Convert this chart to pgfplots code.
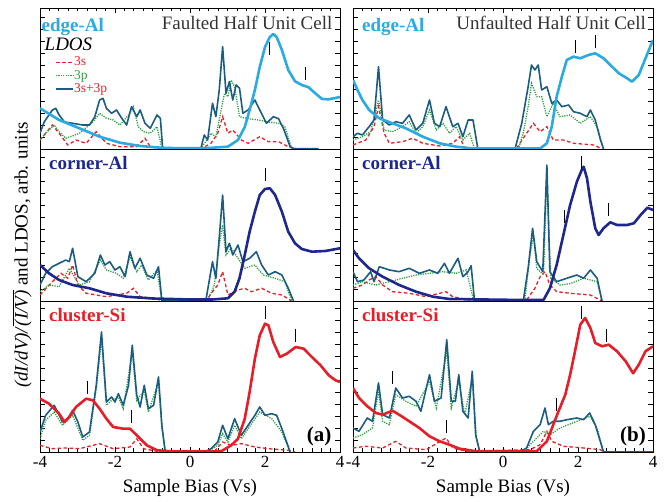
\documentclass[border=0pt]{standalone}
\usepackage{fontspec}
\setmainfont{Liberation Serif}
\usepackage{pgfplots}
\pgfplotsset{compat=1.18}

\definecolor{edgeblue}{HTML}{29ABE2}
\definecolor{navy}{HTML}{1E288C}
\definecolor{clred}{HTML}{E61E28}
\definecolor{sumblue}{HTML}{1B5C82}
\definecolor{pgreen}{HTML}{2AA040}
\definecolor{sred}{HTML}{E8202A}
\definecolor{ttl}{HTML}{333333}

\newcommand{\bigf}{\fontsize{19}{22}\selectfont}

\pgfplotsset{
  panel/.style={scale only axis, width=300pt, xmin=-4, xmax=4, ymin=0,
    anchor=south west,
    axis line style={line width=0.9pt},
    tick style={black, line width=0.7pt},
    tick align=inside,
    ytick distance=12, yticklabels={}, ytick pos=both,
    major tick length=5pt, minor tick length=3.5pt,
    ticklabel style={font=\fontsize{17}{17}\selectfont},
  },
  toprow/.style={xtick={-4,-2,...,4}, minor x tick num=7, xtick pos=right, xticklabels={}},
  midrow/.style={xtick=\empty},
  botrow/.style={xtick={-4,-2,0,2,4}, minor x tick num=7, xtick pos=left,
    xticklabels={-4,-2,0,2,4},
    xticklabel style={yshift=-1pt},
    xlabel={Sample Bias (Vs)},
    xlabel style={font=\bigf, at={(axis description cs:0.5,0)}, anchor=north, yshift=-24pt}},
  s3/.style={sred, line width=1.3pt, dash pattern=on 3.5pt off 2.5pt},
  p3/.style={pgreen, line width=1.3pt, dash pattern=on 1.2pt off 1.2pt},
  sum/.style={sumblue, line width=1.6pt, line join=round},
  expc/.style={line width=2.6pt, line join=round},
  pk/.style={only marks, mark=|, mark size=6.5pt, mark options={line width=1pt, black}, forget plot},
}

\begin{document}
\begin{tikzpicture}
\useasboundingbox (0,0) rectangle (666pt,502pt);

\node[rotate=90, font=\bigf] at (22pt,247pt) {\textit{(dI/dV)/}$\overline{\mbox{\textit{(I/V)}}}$ and LDOS, arb. units};

% ---------------- A1 ----------------
\begin{axis}[panel, toprow, at={(40pt,353pt)}, height=141pt, ymax=141,
  legend style={at={(axis description cs:0.05,0.655)}, anchor=north west, draw=none, fill=none,
    font=\fontsize{13.5}{13.5}\selectfont, row sep=2.5pt, inner sep=0pt, nodes={inner sep=0.2pt}},
  legend cell align=left,
  ]
\addplot[s3] coordinates {(-4.0,9)(-3.67,24)(-3.49,15.7)(-3.26,4)(-3.04,9)(-2.77,5.7)(-2.50,17.3)(-2.23,5.7)(-1.87,2.3)(-1.42,2.3)(-1.20,10.7)(-1.06,2.3)(-0.79,0)(0.29,0)(0.56,5.7)(0.74,15.7)(0.87,32.3)(1.01,15.7)(1.14,19)(1.37,9)(1.55,5.7)(1.86,12.3)(2.09,7.3)(2.36,7.3)(2.62,2.3)(2.80,0)};
\addlegendentry{\textcolor{sred}{3s}}
\addplot[p3] coordinates {(-4.0,9)(-3.85,15.7)(-3.62,24)(-3.49,17.3)(-3.31,10.7)(-2.95,15.7)(-2.59,27)(-2.41,35.7)(-2.23,30.7)(-2.05,29)(-1.87,24)(-1.64,34)(-1.51,42.3)(-1.38,22.3)(-1.24,17.3)(-1.06,15.7)(-0.88,22.3)(-0.75,0.7)(0.29,0.7)(0.42,7.3)(0.56,15.7)(0.69,12.3)(0.83,39)(0.92,55.7)(1.01,52.3)(1.10,69)(1.19,62.3)(1.32,32.3)(1.55,30.3)(1.82,29)(2.09,27)(2.36,25.7)(2.53,22.3)(2.71,0.7)(3.43,0.7)};
\addlegendentry{\textcolor{pgreen}{3p}}
\addplot[sum] coordinates {(-4.0,15.7)(-3.89,27)(-3.67,39)(-3.58,40.7)(-3.49,34)(-3.35,27)(-3.13,25.7)(-2.86,24)(-2.68,24)(-2.54,32)(-2.41,49)(-2.32,50.7)(-2.23,40.7)(-2.09,35.7)(-1.96,39)(-1.82,30.7)(-1.69,24)(-1.56,42.3)(-1.42,32.3)(-1.33,39)(-1.20,25.7)(-1.06,20.7)(-0.88,34)(-0.79,30.7)(-0.73,0.7)(0.29,0.7)(0.38,14)(0.47,9)(0.60,45.7)(0.69,32.3)(0.78,59)(0.87,102.3)(0.96,55.7)(1.05,67.3)(1.14,49)(1.23,64)(1.32,60.7)(1.41,35.7)(1.55,39)(1.73,49)(1.86,39)(2.04,25.7)(2.22,32.3)(2.36,30.3)(2.49,20.7)(2.67,2.3)(2.80,0)(3.43,0)};
\addlegendentry{\textcolor{sred}{3s+3p}}
\addplot[expc, edgeblue, forget plot] coordinates {(-4.0,40.7)(-3.49,29)(-2.95,20.7)(-2.41,12.3)(-1.87,6.3)(-1.33,3)(-0.79,1.3)(-0.25,0.7)(0.38,0.7)(1.01,2.3)(1.28,9)(1.46,22)(1.59,39)(1.73,59)(1.86,82)(2.0,102)(2.13,112)(2.22,115)(2.31,112)(2.45,99)(2.62,79)(2.80,67.7)(2.98,64)(3.16,61.7)(3.34,55.7)(3.52,50)(3.70,49.7)(3.88,51)(4.0,52)};
\addplot[pk] coordinates {(2.13,100)(3.07,75.7)};
\node[anchor=base west, font=\bigf\bfseries, text=edgeblue, inner sep=0pt] at (rel axis cs:0.005,0.832) {edge-Al};
\node[anchor=base east, font=\bigf, text=ttl, inner sep=0pt] at (rel axis cs:0.975,0.849) {Faulted Half Unit Cell};
\node[anchor=base west, font=\bigf\itshape, inner sep=0pt] at (rel axis cs:0.015,0.695) {LDOS};
\end{axis}

% ---------------- B1 ----------------
\begin{axis}[panel, toprow, at={(353pt,353pt)}, height=141pt, ymax=141]
\addplot[s3] coordinates {(-4.0,4)(-3.66,9)(-3.44,22.3)(-3.32,42.3)(-3.17,15.7)(-3.03,5.7)(-2.68,7.3)(-2.41,10.7)(-2.14,5.7)(-1.69,3)(-1.34,5.7)(-1.16,12.3)(-1.02,0.7)(0.36,0.7)(0.63,15.7)(0.81,25.7)(0.99,17.3)(1.17,22.3)(1.34,9)(1.61,9)(1.88,5.7)(2.42,4)(2.64,0)};
\addplot[p3] coordinates {(-4.0,9)(-3.75,12.3)(-3.53,17.3)(-3.32,49)(-3.17,19)(-2.95,17.3)(-2.68,22.3)(-2.50,27.3)(-2.32,15.7)(-2.14,22.3)(-1.96,39)(-1.78,19)(-1.60,25.7)(-1.43,15.7)(-1.25,22.3)(-1.07,9)(-0.89,15.7)(-0.76,0)(0.41,0)(0.54,15.7)(0.67,42.3)(0.76,65.7)(0.90,52.3)(1.03,52.3)(1.17,32.3)(1.34,45.7)(1.52,32.3)(1.79,34)(2.06,25.7)(2.33,32.3)(2.51,22.3)(2.68,0)};
\addplot[sum] coordinates {(-4.0,12.3)(-3.88,15.7)(-3.75,14)(-3.57,22.3)(-3.44,29)(-3.32,82.3)(-3.21,29)(-3.03,24)(-2.86,27.3)(-2.68,25.7)(-2.50,34)(-2.32,19)(-2.14,25.7)(-1.96,49)(-1.83,25.7)(-1.69,22.3)(-1.52,42.3)(-1.34,22.3)(-1.20,25.7)(-1.07,12.3)(-0.93,29)(-0.80,29)(-0.67,0)(0.32,0)(0.50,25.7)(0.67,62.3)(0.76,84)(0.85,79)(0.94,84)(1.03,59)(1.17,62.3)(1.30,45.7)(1.43,49)(1.57,42.3)(1.75,44)(1.88,37.3)(2.06,35.7)(2.24,32.3)(2.33,39)(2.46,29)(2.60,9)(2.68,0)};
\addplot[expc, edgeblue] coordinates {(-4.0,69)(-3.88,59)(-3.75,49)(-3.57,39)(-3.30,30.7)(-2.95,25.7)(-2.59,20.7)(-2.14,12.3)(-1.69,5.7)(-1.25,2.3)(-0.80,0.5)(0.99,0.5)(1.17,5.7)(1.30,22.3)(1.43,52.3)(1.57,72.3)(1.70,89)(1.88,92.3)(2.06,90.7)(2.28,94)(2.46,95.7)(2.68,90.7)(2.86,84)(3.09,75.7)(3.31,70.7)(3.44,67.3)(3.62,74)(3.80,90.7)(4.0,109)};
\addplot[pk] coordinates {(1.92,102)(2.46,107)};
\node[anchor=base west, font=\bigf\bfseries, text=edgeblue, inner sep=0pt] at (rel axis cs:0.03,0.832) {edge-Al};
\node[anchor=base east, font=\bigf, text=ttl, inner sep=0pt] at (rel axis cs:0.977,0.849) {Unfaulted Half Unit Cell};
\end{axis}

% ---------------- A2 ----------------
\begin{axis}[panel, midrow, at={(40pt,201pt)}, height=152pt, ymax=152]
\addplot[s3] coordinates {(-4.0,6)(-3.67,19.3)(-3.44,27.7)(-3.26,22.7)(-3.13,36)(-2.99,16)(-2.77,7.7)(-2.23,4.3)(-1.69,7.7)(-1.51,12.7)(-1.33,4.3)(-0.97,2.7)(-0.70,0)(0.42,0)(0.60,9.3)(0.74,16)(0.87,29.3)(1.01,6)(1.28,11)(1.46,12.7)(1.64,9.3)(1.91,12.7)(2.18,7.7)(2.45,6)(2.71,0)};
\addplot[p3] coordinates {(-4.0,9.3)(-3.76,16)(-3.49,14.3)(-3.22,32.7)(-2.95,16)(-2.68,19.3)(-2.39,41)(-2.23,31)(-1.96,27.7)(-1.78,22.7)(-1.60,44.3)(-1.42,29.3)(-1.29,36)(-1.11,21)(-0.88,31)(-0.75,0)(0.47,0)(0.65,16)(0.78,56)(0.87,76)(0.96,46)(1.10,52.7)(1.28,42.7)(1.46,32.7)(1.73,36)(1.95,26)(2.27,22.7)(2.53,19.3)(2.71,0)};
\addplot[sum] coordinates {(-4.0,16)(-3.85,27.7)(-3.67,34.3)(-3.49,37.7)(-3.31,41)(-3.22,39.3)(-3.13,52.7)(-2.99,24.3)(-2.77,19.3)(-2.54,27.7)(-2.39,46)(-2.27,36)(-2.14,39.3)(-2.0,31)(-1.87,34.3)(-1.73,24.3)(-1.60,49.3)(-1.47,32.7)(-1.33,42.7)(-1.15,26)(-0.97,22.7)(-0.84,34.3)(-0.75,0)(0.42,0)(0.60,39.3)(0.69,22.7)(0.80,72.7)(0.87,106)(0.96,49.3)(1.05,57.7)(1.14,46)(1.28,56)(1.41,39.3)(1.59,42.7)(1.77,49.3)(1.91,36)(2.09,26)(2.27,29.3)(2.45,26)(2.62,12.7)(2.76,0)};
\addplot[expc, navy] coordinates {(-4.0,36)(-3.76,27.7)(-3.49,21)(-3.13,16)(-2.68,12.7)(-2.23,7.7)(-1.69,4.3)(-1.0,2.5)(0,1.5)(0.6,1.5)(1.01,2.7)(1.19,9.3)(1.32,22.7)(1.46,46)(1.59,69.3)(1.73,89.3)(1.86,106)(2.0,112)(2.13,112.7)(2.27,106)(2.45,89.3)(2.62,69.3)(2.80,57.7)(2.98,52)(3.25,49.3)(3.61,50)(4.0,52.7)};
\addplot[pk] coordinates {(2.0,126)};
\node[anchor=base west, font=\bigf\bfseries, text=navy, inner sep=0pt] at (rel axis cs:0.03,0.868) {corner-Al};
\end{axis}

% ---------------- B2 ----------------
\begin{axis}[panel, midrow, at={(353pt,201pt)}, height=152pt, ymax=152]
\addplot[s3] coordinates {(-4.0,12.7)(-3.75,16)(-3.57,21)(-3.39,24.3)(-3.21,16)(-2.95,9.3)(-2.50,7.7)(-2.05,4.3)(-1.52,9.3)(-1.34,4.3)(-0.89,1)(0.63,1)(0.85,12.7)(0.99,24.3)(1.12,29.3)(1.25,16)(1.43,9.3)(1.79,7.7)(2.33,6)(2.64,0)};
\addplot[p3] coordinates {(-4.0,16)(-3.75,19.3)(-3.39,16)(-3.03,19.3)(-2.68,22.7)(-2.32,26)(-1.96,27.7)(-1.60,29.3)(-1.25,27.7)(-0.98,31)(-0.78,0)(0.58,0)(0.72,46)(0.81,66)(0.90,32.7)(1.08,26)(1.17,126)(1.27,22.7)(1.52,16)(1.79,17.3)(2.15,22.7)(2.51,19.3)(2.64,0)};
\addplot[sum] coordinates {(-4.0,29.3)(-3.88,19.3)(-3.71,21)(-3.53,29.3)(-3.44,19.3)(-3.30,34.3)(-3.03,31)(-2.77,29.3)(-2.50,32.7)(-2.23,27.7)(-1.96,31)(-1.74,27.7)(-1.56,37.7)(-1.43,27.7)(-1.20,42.7)(-1.07,24.3)(-0.93,29.3)(-0.85,35.3)(-0.76,0)(0.54,0)(0.67,32.7)(0.79,72.7)(0.90,39.3)(1.06,29.3)(1.17,136)(1.25,29.3)(1.43,19.3)(1.70,22.7)(1.97,26)(2.15,22.7)(2.33,31)(2.51,22.7)(2.64,0)};
\addplot[expc, navy] coordinates {(-4.0,51)(-3.84,42.7)(-3.57,32.7)(-3.21,24.3)(-2.77,16)(-2.32,9.3)(-1.87,4.3)(-1.43,2)(-0.5,1.5)(0.5,1)(1.08,1)(1.25,12.7)(1.43,36)(1.61,66)(1.79,96)(1.97,119.3)(2.10,131)(2.15,134.3)(2.24,122.7)(2.33,99.3)(2.46,72.7)(2.55,66)(2.68,72.7)(2.86,78.7)(3.04,76)(3.31,76)(3.49,77.7)(3.67,86)(3.85,93.3)(4.0,91)};
\addplot[pk] coordinates {(1.64,84.3)(2.10,138.7)(2.82,91)};
\node[anchor=base west, font=\bigf\bfseries, text=navy, inner sep=0pt] at (rel axis cs:0.03,0.868) {corner-Al};
\end{axis}

% ---------------- A3 ----------------
\begin{axis}[panel, botrow, at={(40pt,50pt)}, height=151pt, ymax=151]
\addplot[s3] coordinates {(-4.0,6.7)(-3.67,3.3)(-3.31,4)(-2.95,3.3)(-2.41,8.3)(-2.05,3.3)(-1.60,5)(-1.42,13.3)(-1.24,3.3)(-0.88,0.7)(0.65,0.7)(0.87,10)(1.10,6.7)(1.37,8.3)(1.73,5)(2.09,3.3)(2.62,1.7)(2.80,0)};
\addplot[p3] coordinates {(-4.0,13.3)(-3.85,31.7)(-3.62,40)(-3.40,26.7)(-3.13,36.7)(-2.86,11.7)(-2.68,16.7)(-2.50,63.3)(-2.36,113.3)(-2.23,46.7)(-2.09,51.7)(-1.91,55)(-1.78,43.3)(-1.54,100)(-1.42,51.7)(-1.22,61.7)(-1.11,40)(-0.84,70)(-0.75,23.3)(-0.66,0)(0.47,0)(0.74,6.7)(0.87,18.3)(1.01,10)(1.19,26.7)(1.37,13.3)(1.55,23.3)(1.86,40)(2.18,33.3)(2.45,20)(2.67,0)};
\addplot[sum] coordinates {(-4.0,20)(-3.85,36.7)(-3.62,46.7)(-3.40,30)(-3.26,33.3)(-3.13,41.7)(-2.99,30)(-2.86,15)(-2.68,20)(-2.50,66.7)(-2.36,120)(-2.23,50)(-2.09,55)(-2.0,50)(-1.91,58.3)(-1.78,46.7)(-1.64,66.7)(-1.54,106.7)(-1.42,56.7)(-1.33,45)(-1.22,66.7)(-1.11,43.3)(-0.97,46.7)(-0.84,75)(-0.75,26.7)(-0.66,0)(0.38,0)(0.56,3.3)(0.74,10)(0.87,26.7)(1.01,13.3)(1.19,33.3)(1.37,16.7)(1.55,26.7)(1.73,36.7)(1.86,45)(2.0,36.7)(2.18,38.3)(2.31,36.7)(2.45,23.3)(2.67,0)};
\addplot[expc, clred] coordinates {(-4.0,53.3)(-3.76,48.3)(-3.49,38.3)(-3.35,30)(-3.22,35)(-3.04,45)(-2.77,53.3)(-2.59,51.7)(-2.41,43.3)(-2.23,33.3)(-2.05,25)(-1.78,23.3)(-1.60,23.3)(-1.42,16.7)(-1.15,6.7)(-0.88,1.7)(-0.43,0.5)(0.83,0.7)(1.10,6.7)(1.28,13.3)(1.46,33.3)(1.59,60)(1.73,93.3)(1.86,116.7)(2.0,128.3)(2.09,126.7)(2.22,110)(2.40,95)(2.58,98.3)(2.82,105)(3.03,103.3)(3.25,95)(3.48,86.7)(3.70,76.7)(3.88,71.7)(4.0,70)};
\addplot[pk] coordinates {(-2.74,64.3)(-1.56,35)(2.01,139.3)(2.82,116)};
\node[anchor=base west, font=\bigf\bfseries, text=clred, inner sep=0pt] at (rel axis cs:0.03,0.863) {cluster-Si};
\node[anchor=base east, font=\fontsize{21}{24}\selectfont\bfseries, inner sep=0pt] at (rel axis cs:0.972,0.068) {(a)};
\end{axis}

% ---------------- B3 ----------------
\begin{axis}[panel, botrow, at={(353pt,50pt)}, height=151pt, ymax=151]
\addplot[s3] coordinates {(-4.0,4)(-3.66,5.7)(-3.21,4)(-2.86,10.7)(-2.59,4)(-2.05,2.3)(-1.52,14)(-1.34,4)(-0.98,0.7)(0.72,2.3)(0.99,7.3)(1.17,20.7)(1.30,10.7)(1.61,5.7)(2.15,4)(2.60,2.3)(2.68,0)};
\addplot[p3] coordinates {(-4.0,14)(-3.75,17.3)(-3.48,24)(-3.32,60.7)(-3.21,30.7)(-3.03,27.3)(-2.86,57.3)(-2.59,50.7)(-2.32,45.7)(-1.96,70.7)(-1.78,44)(-1.50,100.7)(-1.38,44)(-1.18,70.7)(-1.02,37.3)(-0.82,74)(-0.71,14)(-0.62,0)(0.54,0)(0.81,10.7)(1.08,20.7)(1.25,17.3)(1.52,24)(1.97,30.7)(2.31,35.7)(2.51,24)(2.68,0)};
\addplot[sum] coordinates {(-4.0,24)(-3.84,20.7)(-3.62,34)(-3.48,30.7)(-3.32,69)(-3.21,37.3)(-3.03,34)(-2.86,64)(-2.68,54)(-2.50,55.7)(-2.32,50.7)(-2.19,40.7)(-1.96,77.3)(-1.83,50.7)(-1.65,54)(-1.50,112.3)(-1.38,50.7)(-1.27,50.7)(-1.18,77.3)(-1.07,40.7)(-0.93,34)(-0.82,80.7)(-0.73,17.3)(-0.62,0)(0.45,0)(0.63,4)(0.81,20.7)(0.99,27.3)(1.12,44)(1.21,27.3)(1.34,30.7)(1.52,30.7)(1.70,32.3)(1.97,34)(2.15,32.3)(2.31,39)(2.46,27.3)(2.68,0)(4.0,0)};
\addplot[expc, clred] coordinates {(-4.0,64)(-3.84,54)(-3.62,45.7)(-3.39,39)(-3.21,37.3)(-2.95,41.3)(-2.77,37.3)(-2.50,30.7)(-2.23,24)(-1.96,15.7)(-1.69,10.7)(-1.43,7.3)(-1.16,3.3)(-0.71,0.7)(0.90,0.7)(1.17,10.7)(1.34,27.3)(1.48,40.7)(1.66,57.3)(1.79,77.3)(1.92,100.7)(2.06,127.3)(2.19,134)(2.33,124)(2.46,109)(2.64,105.7)(2.82,107.3)(3.04,100.7)(3.27,90.7)(3.47,78.7)(3.62,87.3)(3.80,100.7)(4.0,105.7)};
\addplot[pk] coordinates {(-2.95,74)(-1.50,25.7)(1.43,47.3)(2.10,139)(2.76,116.7)};
\node[anchor=base west, font=\bigf\bfseries, text=clred, inner sep=0pt] at (rel axis cs:0.03,0.863) {cluster-Si};
\node[anchor=base east, font=\fontsize{21}{24}\selectfont\bfseries, inner sep=0pt] at (rel axis cs:0.977,0.068) {(b)};
\end{axis}

\end{tikzpicture}
\end{document}
